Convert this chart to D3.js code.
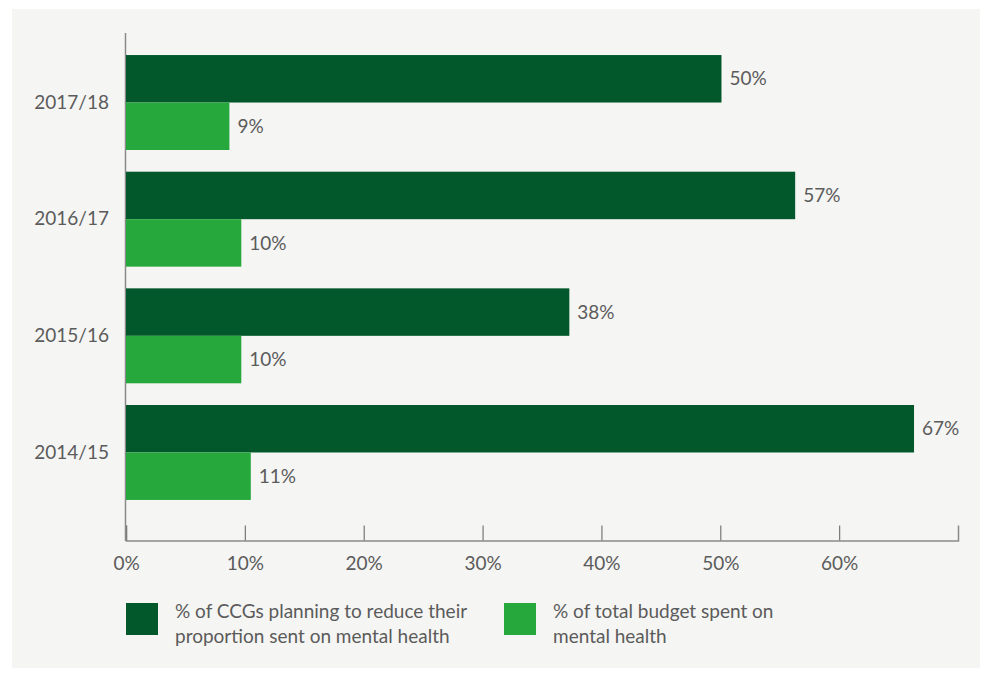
<!DOCTYPE html>
<html>
<head>
<meta charset="utf-8">
<script src="https://cdn.jsdelivr.net/npm/d3@7"></script>
<style>
  body { margin: 0; background: #fff; }
  svg text { font-family: Lato, 'Noto Sans', sans-serif; fill: #5b5b5b; }
</style>
</head>
<body>
<div id="canvas"></div>
<script>
/*
 * Data
 *
 */
const years = ['2017/18', '2016/17', '2015/16', '2014/15'];
const seriesNames = ['reduce', 'budget'];
const reduceValues = [50.1, 56.3, 37.3, 66.3];
const reduceLabels = ['50%', '57%', '38%', '67%'];
const budgetValues = [8.7, 9.7, 9.7, 10.5];
const budgetLabels = ['9%', '10%', '10%', '11%'];
const xTicks = [0, 10, 20, 30, 40, 50, 60];
const legendLines = [
  ['% of CCGs planning to reduce their', 'proportion sent on mental health'],
  ['% of total budget spent on', 'mental health']
];

const color = ['#02582a', '#27a83d'];
const fontSize = '19px';
const svgWidth = 981,
  svgHeight = 675;

const svg = d3.select('#canvas').append('svg')
  .attr('width', svgWidth)
  .attr('height', svgHeight);

// panel background
svg.append('rect')
  .attr('x', 12).attr('y', 9)
  .attr('width', 968).attr('height', 659)
  .attr('fill', '#f5f5f3');

/*
 * Scales
 *
 */
const xScale = d3.scaleLinear()
  .domain([0, 70])
  .range([126, 958]);

const yScale = d3.scaleBand()
  .domain(years)
  .range([44.2, 510.8])
  .paddingInner(0.186)
  .paddingOuter(0.093);

const subScale = d3.scaleBand()
  .domain(seriesNames)
  .range([0, yScale.bandwidth()]);

const rows = years.map((y, i) => ({
  year: y,
  bars: [
    { key: 'reduce', value: reduceValues[i], label: reduceLabels[i] },
    { key: 'budget', value: budgetValues[i], label: budgetLabels[i] }
  ]
}));

/*
 * Axes
 *
 */
const xAxis = svg.append('g')
  .attr('transform', 'translate(0,540.5)')
  .call(d3.axisBottom(xScale)
    .tickValues(xTicks)
    .tickFormat(d => d + '%')
    .tickSizeInner(-15)
    .tickSizeOuter(-15)
    .tickPadding(16));
xAxis.select('.domain').attr('stroke', '#8a8a8a').attr('stroke-width', 1.5);
xAxis.selectAll('.tick line').attr('stroke', '#777').attr('stroke-width', 1.2);
xAxis.selectAll('.tick text')
  .style('font-size', fontSize)
  .style('fill', '#5b5b5b')
  .attr('font-family', null);

svg.append('line')
  .attr('x1', 125.5).attr('x2', 125.5)
  .attr('y1', 33).attr('y2', 541)
  .attr('stroke', '#8a8a8a')
  .attr('stroke-width', 1.5);

const yAxis = svg.append('g')
  .attr('transform', 'translate(126,0)')
  .call(d3.axisLeft(yScale).tickSize(0).tickPadding(17));
yAxis.select('.domain').remove();
yAxis.selectAll('.tick text')
  .style('font-size', fontSize)
  .style('fill', '#5b5b5b')
  .attr('font-family', null);

/*
 * Bars and value labels
 *
 */
const groups = svg.append('g').attr('class', 'data')
  .selectAll('g')
  .data(rows)
  .enter()
  .append('g')
  .attr('transform', d => `translate(0,${yScale(d.year)})`);

groups.selectAll('rect')
  .data(d => d.bars)
  .enter()
  .append('rect')
  .attr('x', xScale(0))
  .attr('y', d => subScale(d.key))
  .attr('width', d => xScale(d.value) - xScale(0))
  .attr('height', subScale.bandwidth())
  .attr('fill', (d, i) => color[i]);

groups.selectAll('text')
  .data(d => d.bars)
  .enter()
  .append('text')
  .text(d => d.label)
  .attr('x', d => xScale(d.value) + 8)
  .attr('y', d => subScale(d.key) + subScale.bandwidth() / 2)
  .attr('dy', '0.35em')
  .style('font-size', fontSize);

/*
 * Legend
 *
 */
const legendX = [126, 504];
const legend = svg.append('g')
  .selectAll('g')
  .data(legendLines)
  .enter()
  .append('g')
  .attr('transform', (d, i) => `translate(${legendX[i]},603)`);

legend.append('rect')
  .attr('width', 32)
  .attr('height', 32)
  .attr('fill', (d, i) => color[i]);

const legendText = legend.append('text')
  .style('font-size', fontSize);
legendText.selectAll('tspan')
  .data(d => d)
  .enter()
  .append('tspan')
  .attr('x', 49)
  .attr('y', (d, i) => 15 + i * 25)
  .text(d => d);
</script>
</body>
</html>
